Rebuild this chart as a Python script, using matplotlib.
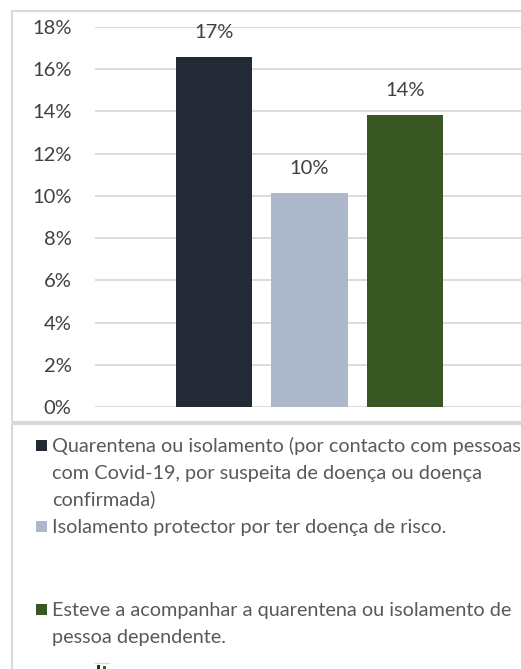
import matplotlib
matplotlib.use("Agg")
import matplotlib.pyplot as plt
from matplotlib.patches import Rectangle
from matplotlib.ticker import FuncFormatter

plt.rcParams['font.family'] = ['Lato', 'DejaVu Sans']

series = [
    ["Quarentena ou isolamento (por contacto com pessoas",
     "com Covid-19, por suspeita de doença ou doença",
     "confirmada)"],
    ["Isolamento protector por ter doença de risco."],
    ["Esteve a acompanhar a quarentena ou isolamento de",
     "pessoa dependente."],
]
values = [16.6, 10.15, 13.85]
labels = ["17%", "10%", "14%"]
colors = ["#232a35", "#adb9ca", "#385723"]
yticks = [0, 2, 4, 6, 8, 10, 12, 14, 16, 18]

W, H = 521, 669
fig = plt.figure(figsize=(W / 100, H / 100), dpi=100)

def fx(x):
    return x / W

def fy(y):
    return 1 - y / H

# frames
grey = "#d9d9d9"
fig.patches.append(Rectangle((fx(12), fy(422)), fx(540) - fx(12), fy(11) - fy(422),
                             transform=fig.transFigure, fill=False, edgecolor=grey, lw=1.5))
fig.patches.append(Rectangle((fx(12), fy(700)), fx(540) - fx(12), fy(424) - fy(700),
                             transform=fig.transFigure, fill=False, edgecolor=grey, lw=1.5))

ax = fig.add_axes([fx(95), fy(407), fx(524) - fx(95), fy(27) - fy(407)])
xs = [-1, 0, 1]
bars = ax.bar(xs, values, width=0.8, color=colors, zorder=3)
for b, lab in zip(bars, labels):
    ax.annotate(lab, (b.get_x() + b.get_width() / 2, b.get_height()),
                xytext=(0, 24), textcoords="offset pixels",
                ha="center", va="center", fontsize=14.5, color="#404040")
ax.set_xlim(-2.246, 2.246)
ax.set_ylim(0, 18)
ax.set_yticks(yticks)
ax.yaxis.set_major_formatter(FuncFormatter(lambda v, p: f"{int(v)}%"))
ax.tick_params(axis='y', length=0, pad=17, labelsize=14.5, labelcolor="#404040")
ax.set_xticks([])
ax.grid(axis='y', color=grey, lw=1.3, zorder=0)
for s in ax.spines.values():
    s.set_visible(False)
ax.patch.set_alpha(0)

# legend
legend_base = [452, 533, 616]
line_step = 26.5
for lines, c, yb in zip(series, colors, legend_base):
    fig.patches.append(Rectangle((fx(36), fy(yb - 1)), fx(11), fy(0) - fy(11),
                                 transform=fig.transFigure, facecolor=c, edgecolor='none'))
    for i, line in enumerate(lines):
        fig.text(fx(52), fy(yb + i * line_step), line, ha='left', va='baseline',
                 fontsize=14.3, color="#595959")

# small clipped element at the bottom edge
fig.lines.append(plt.Line2D([fx(95), fx(109)], [fy(663), fy(663)], transform=fig.transFigure,
                            color=grey, lw=1))
fig.patches.append(Rectangle((fx(97), fy(669)), fx(3), fy(0) - fy(4),
                             transform=fig.transFigure, facecolor=colors[0], edgecolor='none'))
fig.patches.append(Rectangle((fx(103), fy(669)), fx(3), fy(0) - fy(3),
                             transform=fig.transFigure, facecolor=colors[2], edgecolor='none'))
fig.savefig("out.png", dpi=100)
